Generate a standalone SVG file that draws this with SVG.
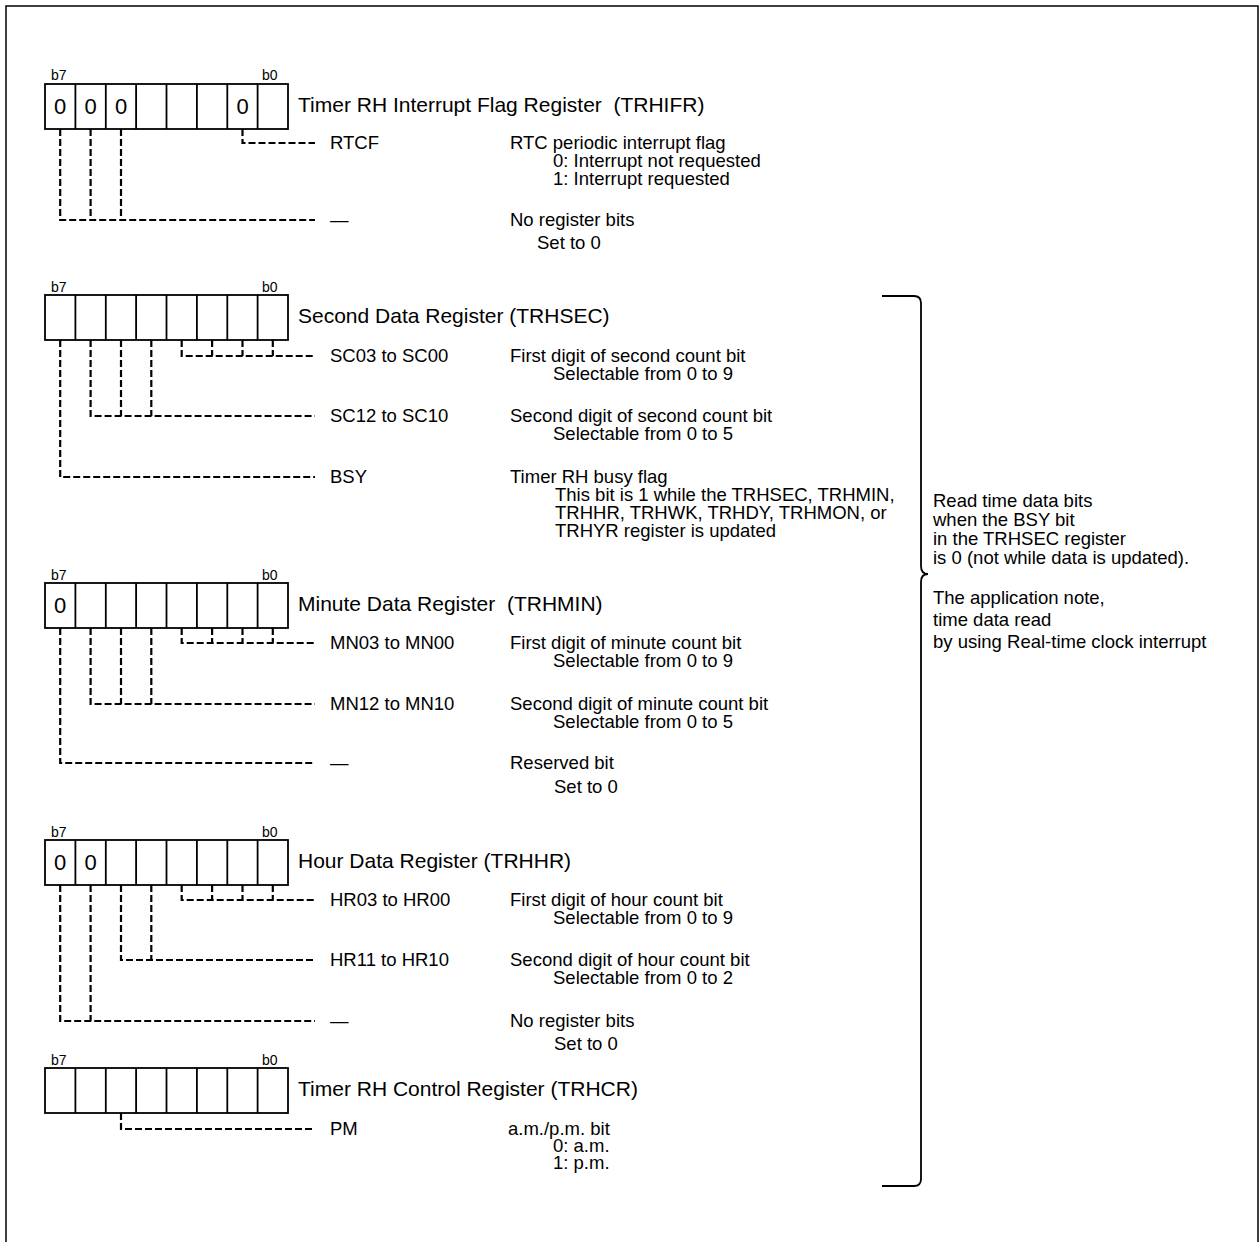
<svg xmlns="http://www.w3.org/2000/svg" xmlns:xlink="http://www.w3.org/1999/xlink" width="1260" height="1242" viewBox="0 0 1260 1242">
<style>
text{font-family:"Liberation Sans",Arial,sans-serif;fill:#000}
.t{font-size:21px}
.b{font-size:18.5px}
.s{font-size:14px}
.d{font-size:22px;text-anchor:middle}
.box{fill:#fff;stroke:#000;stroke-width:1.8}
.dash{fill:none;stroke:#000;stroke-width:2.2;stroke-dasharray:7 3}
.frame{fill:none;stroke:#000;stroke-width:1.5}
</style>
<defs>
<g id="reg">
<rect class="box" x="45" y="0" width="243" height="45"/>
<path d="M75.4,0V45M105.8,0V45M136.1,0V45M166.5,0V45M196.9,0V45M227.3,0V45M257.6,0V45" stroke="#000" stroke-width="1.8" fill="none"/>
</g>
</defs>
<rect class="frame" x="6" y="6" width="1252" height="1260"/>

<g id="TRHIFR">
<text class="s" x="51" y="80">b7</text><text class="s" x="262" y="80">b0</text>
<use xlink:href="#reg" href="#reg" y="84"/>
<text class="d" x="60.2" y="114">0</text><text class="d" x="90.6" y="114">0</text><text class="d" x="121" y="114">0</text><text class="d" x="242.5" y="114">0</text>
<text class="t" x="298" y="112">Timer RH Interrupt Flag Register&#160; (TRHIFR)</text>
<text class="b" x="330" y="149">RTCF</text>
<text class="b" x="510" y="149">RTC periodic interrupt flag</text>
<text class="b" x="553" y="167">0: Interrupt not requested</text>
<text class="b" x="553" y="185">1: Interrupt requested</text>
<text class="b" x="330" y="226">—</text>
<text class="b" x="510" y="226">No register bits</text>
<text class="b" x="537" y="249">Set to 0</text>
</g>

<g id="TRHSEC">
<text class="s" x="51" y="292">b7</text><text class="s" x="262" y="292">b0</text>
<use xlink:href="#reg" href="#reg" y="295"/>
<text class="t" x="298" y="323">Second Data Register (TRHSEC)</text>
<text class="b" x="330" y="362">SC03 to SC00</text>
<text class="b" x="510" y="362">First digit of second count bit</text>
<text class="b" x="553" y="380">Selectable from 0 to 9</text>
<text class="b" x="330" y="422">SC12 to SC10</text>
<text class="b" x="510" y="422">Second digit of second count bit</text>
<text class="b" x="553" y="440">Selectable from 0 to 5</text>
<text class="b" x="330" y="483">BSY</text>
<text class="b" x="510" y="483">Timer RH busy flag</text>
<text class="b" x="555" y="501">This bit is 1 while the TRHSEC, TRHMIN,</text>
<text class="b" x="555" y="519">TRHHR, TRHWK, TRHDY, TRHMON, or</text>
<text class="b" x="555" y="537">TRHYR register is updated</text>
</g>

<g id="TRHMIN">
<text class="s" x="51" y="580">b7</text><text class="s" x="262" y="580">b0</text>
<use xlink:href="#reg" href="#reg" y="583"/>
<text class="d" x="60.2" y="613">0</text>
<text class="t" x="298" y="611">Minute Data Register&#160; (TRHMIN)</text>
<text class="b" x="330" y="649">MN03 to MN00</text>
<text class="b" x="510" y="649">First digit of minute count bit</text>
<text class="b" x="553" y="667">Selectable from 0 to 9</text>
<text class="b" x="330" y="710">MN12 to MN10</text>
<text class="b" x="510" y="710">Second digit of minute count bit</text>
<text class="b" x="553" y="728">Selectable from 0 to 5</text>
<text class="b" x="330" y="769">—</text>
<text class="b" x="510" y="769">Reserved bit</text>
<text class="b" x="554" y="793">Set to 0</text>
</g>

<g id="TRHHR">
<text class="s" x="51" y="837">b7</text><text class="s" x="262" y="837">b0</text>
<use xlink:href="#reg" href="#reg" y="840"/>
<text class="d" x="60.2" y="870">0</text><text class="d" x="90.6" y="870">0</text>
<text class="t" x="298" y="868">Hour Data Register (TRHHR)</text>
<text class="b" x="330" y="906">HR03 to HR00</text>
<text class="b" x="510" y="906">First digit of hour count bit</text>
<text class="b" x="553" y="924">Selectable from 0 to 9</text>
<text class="b" x="330" y="966">HR11 to HR10</text>
<text class="b" x="510" y="966">Second digit of hour count bit</text>
<text class="b" x="553" y="984">Selectable from 0 to 2</text>
<text class="b" x="330" y="1027">—</text>
<text class="b" x="510" y="1027">No register bits</text>
<text class="b" x="554" y="1050">Set to 0</text>
</g>

<g id="TRHCR">
<text class="s" x="51" y="1065">b7</text><text class="s" x="262" y="1065">b0</text>
<use xlink:href="#reg" href="#reg" y="1068"/>
<text class="t" x="298" y="1096">Timer RH Control Register (TRHCR)</text>
<text class="b" x="330" y="1135">PM</text>
<text class="b" x="508" y="1135">a.m./p.m. bit</text>
<text class="b" x="553" y="1152">0: a.m.</text>
<text class="b" x="553" y="1169">1: p.m.</text>
</g>

<g id="note">
<path d="M882,296H914Q921,296 921,303V566Q921,574 928,574Q921,574 921,582V1179Q921,1186 914,1186H882" fill="none" stroke="#000" stroke-width="1.8"/>
<text class="b" x="933" y="507">Read time data bits</text>
<text class="b" x="933" y="526">when the BSY bit</text>
<text class="b" x="933" y="545">in the TRHSEC register</text>
<text class="b" x="933" y="564">is 0 (not while data is updated).</text>
<text class="b" x="933" y="604">The application note,</text>
<text class="b" x="933" y="626">time data read</text>
<text class="b" x="933" y="648">by using Real-time clock interrupt</text>
</g>

<g id="connectors">
<path class="dash" d="M242.5,129V143H315"/>
<path class="dash" d="M60.2,129V220H315M90.6,129V220M121,129V220"/>
<path class="dash" d="M181.7,340V356H315M212.1,340V356M242.5,340V356M272.8,340V356"/>
<path class="dash" d="M90.6,340V416H315M121,340V416M151.3,340V416"/>
<path class="dash" d="M60.2,340V477H315"/>
<path class="dash" d="M181.7,628V643H315M212.1,628V643M242.5,628V643M272.8,628V643"/>
<path class="dash" d="M90.6,628V704H315M121,628V704M151.3,628V704"/>
<path class="dash" d="M60.2,628V763H315"/>
<path class="dash" d="M181.7,885V900H315M212.1,885V900M242.5,885V900M272.8,885V900"/>
<path class="dash" d="M121,885V960H315M151.3,885V960"/>
<path class="dash" d="M60.2,885V1021H315M90.6,885V1021"/>
<path class="dash" d="M121,1113V1129H315"/>
</g>
</svg>
